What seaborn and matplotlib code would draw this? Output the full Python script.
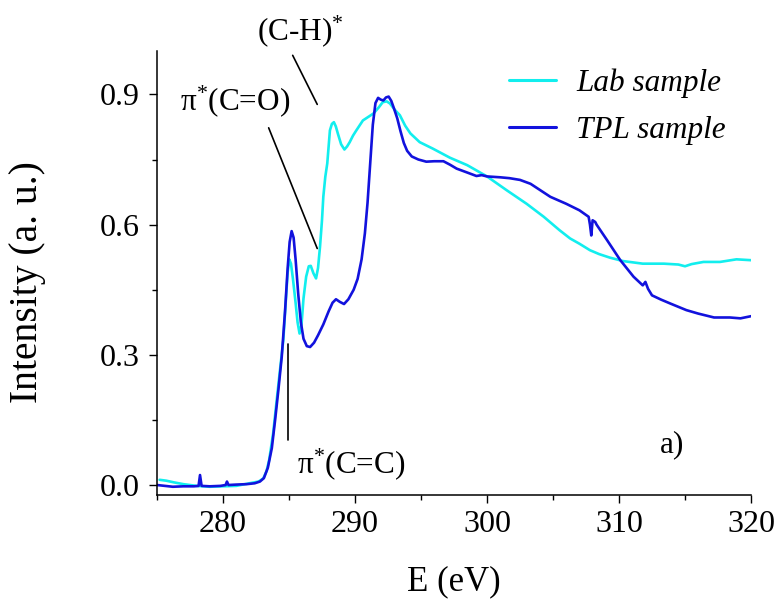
import numpy as np
import pandas as pd
import matplotlib
matplotlib.use("Agg")
import matplotlib.pyplot as plt
from matplotlib.ticker import MultipleLocator, FuncFormatter
import seaborn as sns

# ---- data (NEXAFS C K-edge) ----
tpl_energy = [275.0, 275.6, 276.2, 277.0, 277.8, 278.15, 278.26, 278.38, 279.0, 279.8,
              280.2, 280.3, 280.42, 281.0, 281.8, 282.4, 282.8, 283.1, 283.4, 283.7,
              283.95, 284.2, 284.45, 284.7, 284.9, 285.05, 285.2, 285.35, 285.5, 285.7,
              285.9, 286.1, 286.35, 286.6, 286.9, 287.2, 287.6, 288.0, 288.3, 288.56,
              288.85, 289.17, 289.5, 289.9, 290.2, 290.5, 290.75, 290.95, 291.15, 291.35,
              291.55, 291.75, 291.95, 292.15, 292.35, 292.55, 292.75, 292.95, 293.2, 293.45,
              293.7, 293.95, 294.3, 294.8, 295.4, 296.0, 296.7, 297.2, 297.7, 298.5,
              299.2, 299.6, 300.0, 301.0, 301.7, 302.5, 303.3, 304.0, 304.8, 305.4,
              306.0, 307.0, 307.7, 307.8, 307.9, 308.0, 308.2, 308.3, 309.1, 310.1,
              311.1, 311.8, 312.0, 312.2, 312.5, 313.2, 313.9, 315.1, 316.0, 316.8,
              317.2, 318.4, 319.2, 320.0]
tpl_intensity = [0.0, -0.002, -0.004, -0.003, -0.003, -0.002, 0.023, -0.002, -0.003, -0.002,
                 0.0, 0.008, 0.0, 0.001, 0.002, 0.004, 0.008, 0.016, 0.04, 0.085,
                 0.15, 0.22, 0.295, 0.40, 0.50, 0.56, 0.585, 0.57, 0.52, 0.44,
                 0.375, 0.337, 0.32, 0.318, 0.328, 0.345, 0.37, 0.40, 0.42, 0.428,
                 0.422, 0.417, 0.428, 0.45, 0.475, 0.52, 0.58, 0.65, 0.74, 0.83,
                 0.88, 0.892, 0.888, 0.886, 0.893, 0.895, 0.885, 0.868, 0.845, 0.815,
                 0.788, 0.77, 0.757, 0.75, 0.745, 0.746, 0.746, 0.738, 0.729, 0.72,
                 0.712, 0.714, 0.711, 0.709, 0.707, 0.703, 0.694, 0.68, 0.664, 0.656,
                 0.648, 0.633, 0.618, 0.60, 0.575, 0.61, 0.606, 0.60, 0.564, 0.518,
                 0.48, 0.46, 0.468, 0.452, 0.437, 0.427, 0.418, 0.403, 0.395, 0.389,
                 0.386, 0.386, 0.384, 0.389]

lab_energy = [275.2, 275.7, 276.3, 277.0, 278.0, 279.0, 280.0, 281.0, 282.0, 282.7,
              283.05, 283.3, 283.5, 283.8, 284.05, 284.3, 284.57, 284.75, 284.9, 285.02,
              285.15, 285.3, 285.5, 285.65, 285.8, 285.95, 286.1, 286.3, 286.5, 286.65,
              286.85, 287.05, 287.2, 287.35, 287.5, 287.6, 287.75, 287.9, 288.1, 288.25,
              288.4, 288.55, 288.7, 288.95, 289.2, 289.4, 289.6, 289.85, 290.1, 290.6,
              291.0, 291.4, 291.8, 292.1, 292.4, 292.65, 293.0, 293.4, 293.8, 294.2,
              294.9, 295.9, 297.2, 298.5, 300.0, 301.5, 303.0, 304.3, 305.5, 306.3,
              307.0, 307.8, 308.5, 309.3, 310.3, 311.8, 313.4, 314.5, 315.0, 315.5,
              316.4, 317.65, 318.9, 320.0]
lab_intensity = [0.012, 0.01, 0.006, 0.002, -0.002, -0.004, -0.003, -0.002, 0.004, 0.008,
                 0.015, 0.032, 0.058, 0.119, 0.19, 0.26, 0.334, 0.42, 0.49, 0.52,
                 0.51, 0.475, 0.42, 0.375, 0.349, 0.37, 0.43, 0.48, 0.504, 0.505,
                 0.488, 0.476, 0.50, 0.549, 0.61, 0.664, 0.71, 0.741, 0.817, 0.832,
                 0.836, 0.826, 0.81, 0.785, 0.773, 0.78, 0.79, 0.805, 0.817, 0.84,
                 0.848, 0.856, 0.87, 0.882, 0.884, 0.879, 0.865, 0.852, 0.828, 0.81,
                 0.79, 0.775, 0.754, 0.737, 0.711, 0.679, 0.648, 0.618, 0.587, 0.568,
                 0.556, 0.541, 0.532, 0.524, 0.516, 0.51, 0.51, 0.508, 0.504, 0.509,
                 0.514, 0.514, 0.52, 0.518]

sample_names = ["Lab sample", "TPL sample"]
sample_colors = ["#12eeee", "#1212dd"]

# leader lines for the peak labels (data units)
ch_line = ([285.28, 287.14], [0.99, 0.877])
co_line = ([283.46, 287.14], [0.823, 0.545])
cc_line = ([284.95, 284.95], [0.326, 0.104])

df = pd.concat([
    pd.DataFrame({"E": lab_energy, "I": lab_intensity, "sample": sample_names[0]}),
    pd.DataFrame({"E": tpl_energy, "I": tpl_intensity, "sample": sample_names[1]}),
], ignore_index=True)

sns.set_theme(style="ticks")
plt.rcParams["font.family"] = ["Liberation Serif", "DejaVu Serif"]
plt.rcParams["mathtext.default"] = "regular"
plt.rcParams["text.color"] = "black"
plt.rcParams["axes.labelcolor"] = "black"
plt.rcParams["xtick.color"] = "black"
plt.rcParams["ytick.color"] = "black"

fig = plt.figure(figsize=(7.81, 6.0), dpi=100)
ax = fig.add_axes([0.201, 0.175, 0.7606, 0.74])

sns.lineplot(data=df, x="E", y="I", hue="sample", palette=sample_colors,
             hue_order=sample_names, sort=False, estimator=None,
             linewidth=1.9, ax=ax)

ax.set_xlim(275, 320)
ax.set_ylim(-0.023, 1.0)
ax.xaxis.set_major_locator(MultipleLocator(10))
ax.xaxis.set_minor_locator(MultipleLocator(5))
ax.yaxis.set_major_locator(MultipleLocator(0.3))
ax.yaxis.set_minor_locator(MultipleLocator(0.15))
ax.xaxis.set_major_formatter(FuncFormatter(lambda v, p: f"{v:.0f}"))
ax.yaxis.set_major_formatter(FuncFormatter(lambda v, p: f"{v:.1f}"))
ax.set_xticks([280, 290, 300, 310, 320])

ax.tick_params(axis="both", which="major", direction="out", length=5.5, width=1.0,
               labelsize=23, color="black", labelcolor="black", pad=5)
ax.tick_params(axis="y", which="major", pad=7)
ax.tick_params(axis="both", which="minor", direction="out", length=3.5, width=1.0,
               color="black")
for s in ["top", "right"]:
    ax.spines[s].set_visible(False)
for s in ["left", "bottom"]:
    ax.spines[s].set_linewidth(1.1)
    ax.spines[s].set_color("black")

ax.set_xlabel("E (eV)", fontsize=25, labelpad=19)
ax.set_ylabel("Intensity (a. u.)", fontsize=28.5)
ax.yaxis.set_label_coords(-0.187, 0.48)

for xs, ys in [ch_line, co_line, cc_line]:
    ax.plot(xs, ys, color="black", linewidth=1.2, clip_on=False)

ax.text(282.58, 1.024, "(C-H)$^{*}$", fontsize=22.5, ha="left", va="baseline",
        clip_on=False)
ax.text(276.74, 0.863, "π$^{*}$(C=O)", fontsize=22.5, ha="left", va="baseline")
ax.text(285.6, 0.028, "π$^{*}$(C=C)", fontsize=22.5, ha="left", va="baseline")
ax.text(313.1, 0.076, "a)", fontsize=22.5, ha="left", va="baseline")

leg = ax.legend(loc="upper left", bbox_to_anchor=(509 / 781, 1 - 68 / 600),
                bbox_transform=fig.transFigure, frameon=False, borderpad=0,
                borderaxespad=0, handlelength=1.5, handletextpad=0.65,
                labelspacing=0.58, prop={"size": 22.5, "style": "italic"})
for line in leg.get_lines():
    line.set_linewidth(2.2)

fig.savefig("out.png", dpi=100)
